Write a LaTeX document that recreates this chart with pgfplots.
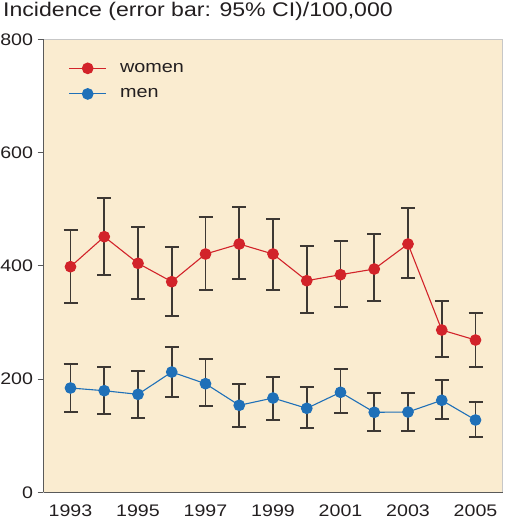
\documentclass[border=0pt]{standalone}
\usepackage{fontspec}
\setmainfont{Liberation Sans}[FakeStretch=1.17]
\usepackage{pgfplots}
\usepackage{pgfplotstable}
\pgfplotsset{compat=1.18}
\definecolor{bg}{HTML}{FAECD0}
\definecolor{wred}{HTML}{D2232A}
\definecolor{mblue}{HTML}{1F70B8}
\definecolor{ebar}{HTML}{3D3833}
\definecolor{txt}{HTML}{231F20}

\pgfplotstableread{
year v lo hi
1993 398.4 334.8 463.2
1994 451.4 384.3 519.7
1995 404.4 341.4 469.0
1996 371.9 311.3 432.6
1997 420.8 357.8 486.1
1998 438.5 376.1 503.8
1999 420.8 357.8 482.6
2000 373.7 316.0 434.9
2001 384.3 326.7 443.2
2002 394.3 337.3 456.1
2003 438.5 377.9 501.5
2004 286.6 239.5 337.3
2005 268.9 221.8 317.2
}\women

\pgfplotstableread{
year v lo hi
1993 184.2 141.8 227.1
1994 179.4 137.7 221.8
1995 173.0 131.7 213.7
1996 212.4 167.8 257.1
1997 191.8 152.4 235.4
1998 153.6 115.8 191.2
1999 166.5 128.2 204.1
2000 148.3 113.5 186.5
2001 176.6 140.0 217.2
2002 141.3 108.8 175.9
2003 141.8 108.8 175.9
2004 162.5 129.4 198.3
2005 127.7  98.2 160.0
}\men

\pgfplotsset{myerr/.style={
  error bars/y dir=both, error bars/y explicit,
  error bars/error mark options={rotate=90, mark size=7bp, line width=1.9bp, color=ebar},
  error bars/error bar style={line width=1.9bp, color=ebar},
}}

\begin{document}
\begin{tikzpicture}
\begin{axis}[
  scale only axis, width=459bp, height=453bp,
  xmin=1992.2, xmax=2005.8, ymin=0, ymax=800,
  xtick={1993,1995,...,2005}, ytick={0,200,...,800},
  x tick label style={/pgf/number format/1000 sep={}},
  /pgf/number format/assume math mode=true,
  tick label style={font=\fontsize{16.8}{17}\selectfont, text=txt},
  xtick style={draw=none},
  ytick style={draw=black!65, line width=1bp},
  tick align=outside, tick pos=left,
  major tick length=6bp,
  xticklabel style={yshift=-3bp},
  yticklabel style={xshift=-1bp},
  axis line style={draw=black!22, line width=1bp},
  axis background/.style={fill=bg},
  clip=false,
  legend style={at={(0.055,0.952)}, anchor=north west, draw=none, fill=none,
    inner sep=0pt, outer sep=0pt, row sep=11bp,
    font=\fontsize{17}{17}\selectfont, text=txt},
  legend cell align=left,
  legend image code/.code={\draw[mark repeat=2,mark phase=2,#1] plot coordinates {(0cm,0cm) (0.65cm,0cm) (1.3cm,0cm)}; \path (1.7cm,0cm);},
]
\addplot[color=wred, line width=1.1bp, mark=*, mark size=5.3bp, mark options={fill=wred, draw=wred}, myerr]
  table[x=year, y=v, y error plus expr=\thisrow{hi}-\thisrow{v}, y error minus expr=\thisrow{v}-\thisrow{lo}] {\women};
\addlegendentry{women}
\addplot[color=mblue, line width=1.1bp, mark=*, mark size=5.3bp, mark options={fill=mblue, draw=mblue}, myerr]
  table[x=year, y=v, y error plus expr=\thisrow{hi}-\thisrow{v}, y error minus expr=\thisrow{v}-\thisrow{lo}] {\men};
\addlegendentry{men}
\draw[black!65, line width=1.2bp] (rel axis cs:0,0) -- (rel axis cs:0,1);
\draw[black!65, line width=1.2bp] (rel axis cs:0,0) -- (rel axis cs:1,0);
\end{axis}
\node[anchor=base west, font=\fontsize{19.8}{20}\selectfont, text=txt, inner sep=0pt]
  at ([xshift=-40.5bp, yshift=22.6bp]current axis.north west) {Incidence (error bar: 95\% CI)/100,000};
\pgfresetboundingbox
\path[use as bounding box] ([xshift=-43.5bp,yshift=-27.7bp]current axis.south west) rectangle ([xshift=1.5bp,yshift=39.3bp]current axis.north east);
\end{tikzpicture}
\end{document}
